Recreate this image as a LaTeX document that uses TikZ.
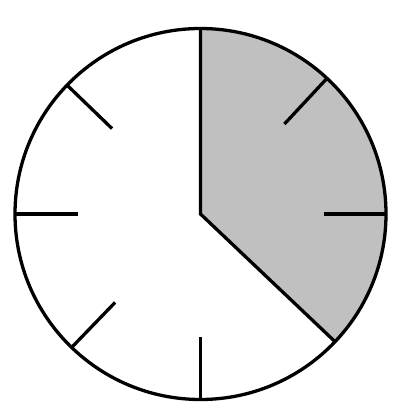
\documentclass[tikz,border=0pt]{standalone}
\usetikzlibrary{calc}
\begin{document}
\begin{tikzpicture}[x=1pt,y=1pt,
  stroke/.style={line width=3.3pt,black},
  tick/.style={line width=3.3pt,black}]
\useasboundingbox (0,-406) rectangle (397,0);
\coordinate (c) at (200.5,-214);
\def\R{185.5}
\def\r{123}
% shaded sector
\fill[fill={rgb,255:red,192;green,192;blue,192}] (c) -- ++(90:\R) arc[start angle=90,end angle=-43.5,radius=\R] -- cycle;
% circle
\draw[stroke] (c) circle[radius=\R];
% hands
\draw[stroke,line join=miter] ($(c)+(90:\R)$) -- (c) -- ($(c)+(-43.5:\R)$);
% ticks
\foreach \a in {47,0,-90,-134,180,136}
  \draw[tick] ($(c)+(\a:\r)$) -- ($(c)+(\a:\R)$);
\end{tikzpicture}
\end{document}
